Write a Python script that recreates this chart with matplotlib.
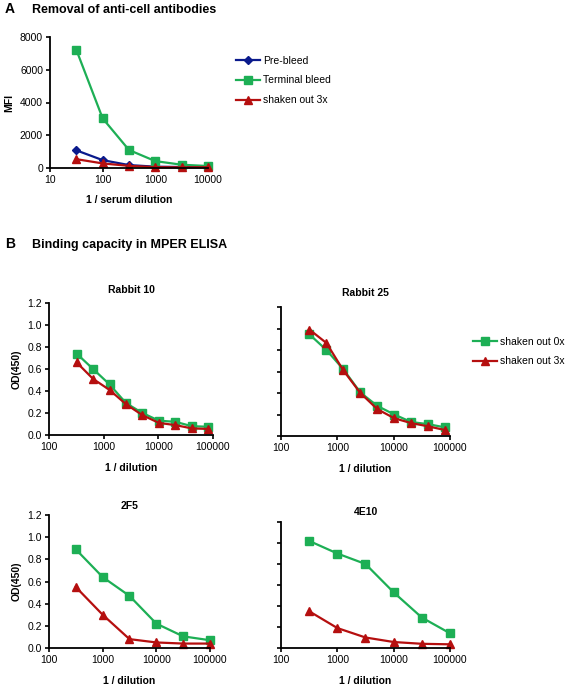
import matplotlib
matplotlib.use("Agg")
import matplotlib.pyplot as plt

plt.rcParams['font.family'] = ['Liberation Sans', 'DejaVu Sans']

# panel A data
dil_a = [31.6, 100, 316, 1000, 3162, 10000]
pre_bleed = [1080, 480, 180, 80, 60, 50]
terminal = [7220, 3030, 1100, 420, 200, 120]
shaken_a = [540, 280, 130, 50, 40, 50]

# panel B rabbits
dil_rab = [320, 640, 1280, 2560, 5120, 10240, 20480, 40960, 81920]
rab10_0x = [0.74, 0.60, 0.46, 0.29, 0.20, 0.13, 0.12, 0.08, 0.075]
rab10_3x = [0.66, 0.51, 0.41, 0.28, 0.18, 0.11, 0.09, 0.06, 0.055]
rab25_0x = [0.945, 0.80, 0.62, 0.405, 0.28, 0.20, 0.13, 0.11, 0.08]
rab25_3x = [0.99, 0.865, 0.61, 0.40, 0.25, 0.165, 0.12, 0.09, 0.055]

# panel B mAbs
dil_mab = [316, 1000, 3162, 10000, 31623, 100000]
f2f5_0x = [0.89, 0.64, 0.47, 0.22, 0.105, 0.07]
f2f5_3x = [0.55, 0.30, 0.08, 0.05, 0.04, 0.04]
e4e10_0x = [1.02, 0.90, 0.80, 0.53, 0.29, 0.14]
e4e10_3x = [0.35, 0.19, 0.10, 0.057, 0.04, 0.035]

green = '#1daf55'
red = '#b50f0f'
blue = '#0a1a8c'

fig = plt.figure(figsize=(5.67, 6.87), dpi=100)
W, H = 567.0, 687.0

def box(l, t, r, b):
    return [l / W, 1 - b / H, (r - l) / W, (b - t) / H]

def style(ax):
    for s in ['top', 'right']:
        ax.spines[s].set_visible(False)
    for s in ['left', 'bottom']:
        ax.spines[s].set_linewidth(1.3)
    ax.tick_params(direction='out', length=3, width=1.2, labelsize=7.5, pad=2)
    ax.minorticks_off()

# ---- A ----
axa = fig.add_axes(box(50, 37, 208, 168))
axa.plot(dil_a, pre_bleed, color=blue, marker='D', ms=4.5, lw=1.6, label='Pre-bleed', clip_on=False)
axa.plot(dil_a, terminal, color=green, marker='s', ms=6, lw=1.6, label='Terminal bleed', clip_on=False)
axa.plot(dil_a, shaken_a, color=red, marker='^', ms=6, lw=1.6, label='shaken out 3x', clip_on=False)
axa.set_xscale('log')
axa.set_xlim(10, 10000)
axa.set_ylim(0, 8000)
axa.set_xticks([10, 100, 1000, 10000])
axa.set_xticklabels(['10', '100', '1000', '10000'])
axa.set_yticks([0, 2000, 4000, 6000, 8000])
style(axa)
axa.set_xlabel('1 / serum dilution', fontsize=7.5, fontweight='bold', labelpad=7)
axa.set_ylabel('MFI', fontsize=7.5, fontweight='bold', labelpad=4)
axa.legend(loc='upper left', bbox_to_anchor=(1.12, 0.93), frameon=False,
           fontsize=7.5, handlelength=2.3, labelspacing=0.95, handletextpad=0.3)

fig.text(5 / W, 1 - 13 / H, 'A', fontsize=10, fontweight='bold')
fig.text(32 / W, 1 - 13 / H, 'Removal of anti-cell antibodies', fontsize=9, fontweight='bold')
fig.text(5 / W, 1 - 248 / H, 'B', fontsize=10, fontweight='bold')
fig.text(32 / W, 1 - 248 / H, 'Binding capacity in MPER ELISA', fontsize=9, fontweight='bold')

panels = [
    (box(49, 303, 213, 435), 'Rabbit 10', dil_rab, rab10_0x, rab10_3x, True, 7),
    (box(281, 307, 450, 436), 'Rabbit 25', dil_rab, rab25_0x, rab25_3x, False, 8),
    (box(49, 515, 210, 648), '2F5', dil_mab, f2f5_0x, f2f5_3x, True, 4),
    (box(281, 522, 450, 648), '4E10', dil_mab, e4e10_0x, e4e10_3x, False, 5),
]

for rect, title, x, y0, y3, left, tpad in panels:
    ax = fig.add_axes(rect)
    ax.plot(x, y0, color=green, marker='s', ms=6, lw=1.6, label='shaken out 0x', clip_on=False)
    ax.plot(x, y3, color=red, marker='^', ms=6, lw=1.6, label='shaken out 3x', clip_on=False)
    ax.set_xscale('log')
    ax.set_xlim(100, 100000)
    ax.set_ylim(0, 1.2)
    ax.set_xticks([100, 1000, 10000, 100000])
    ax.set_xticklabels(['100', '1000', '10000', '100000'])
    ax.set_yticks([0, 0.2, 0.4, 0.6, 0.8, 1.0, 1.2])
    style(ax)
    if left:
        ax.set_yticklabels(['0.0', '0.2', '0.4', '0.6', '0.8', '1.0', '1.2'])
        ax.set_ylabel('OD(450)', fontsize=7.5, fontweight='bold', labelpad=4)
    else:
        ax.set_yticklabels([])
    ax.set_title(title, fontsize=7.5, fontweight='bold', pad=tpad)
    ax.set_xlabel('1 / dilution', fontsize=7.5, fontweight='bold', labelpad=8)
    if title == 'Rabbit 25':
        ax.legend(loc='upper left', bbox_to_anchor=(1.08, 0.84), frameon=False,
                  fontsize=7.5, handlelength=2.3, labelspacing=0.9, handletextpad=0.3)

fig.savefig('out.png', dpi=100)
